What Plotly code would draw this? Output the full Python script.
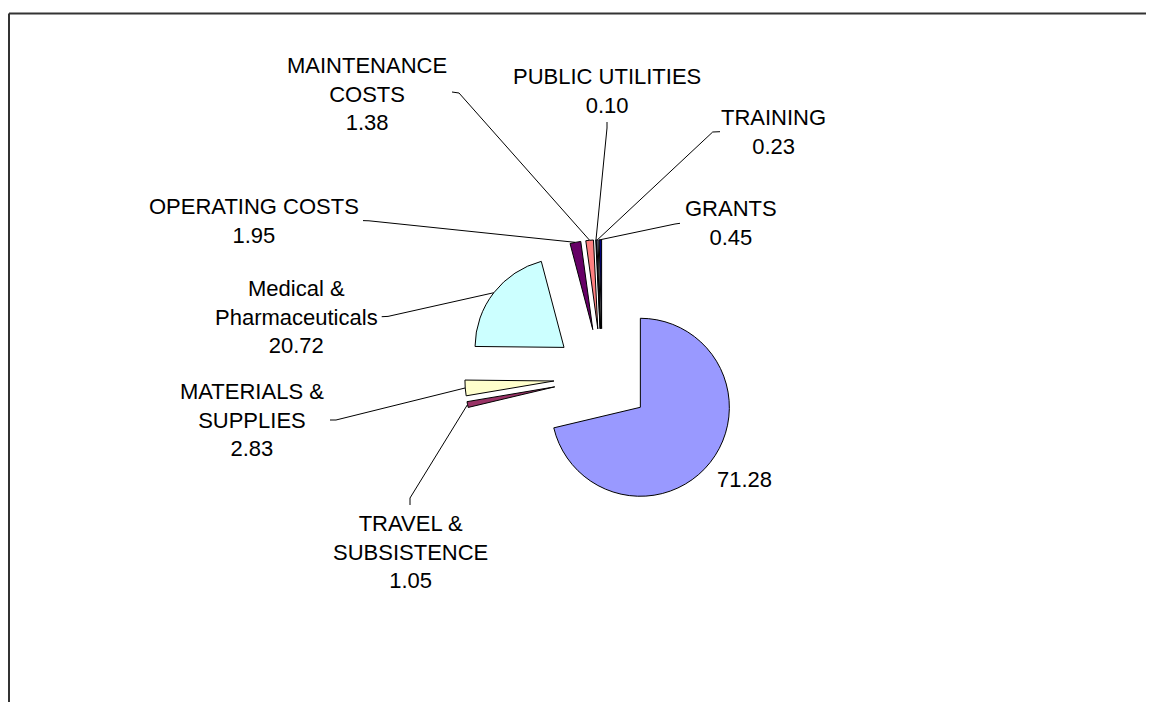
import math
import plotly.graph_objects as go

# ---- data ----
categories = ["", "TRAVEL &<br>SUBSISTENCE", "MATERIALS &<br>SUPPLIES",
              "Medical &<br>Pharmaceuticals", "OPERATING COSTS", "MAINTENANCE<br>COSTS",
              "PUBLIC UTILITIES", "TRAINING", "GRANTS"]
values = [71.28, 1.05, 2.83, 20.72, 1.95, 1.38, 0.10, 0.23, 0.45]
value_labels = ["71.28", "1.05", "2.83", "20.72", "1.95", "1.38", "0.10", "0.23", "0.45"]
colors = ["#9999FF", "#993366", "#FFFFCC", "#CCFFFF", "#660066",
          "#FF8080", "#0066CC", "#CCCCFF", "#000080"]

# ---- layout constants (window pixels; page body has an 8px margin) ----
OFF = 8
W, H = 1154 - 2 * OFF, 710 - 2 * OFF
CX, CY = 602.3, 377.2      # pie centre
R = 89.0                   # slice radius
PULL = 0.545               # explosion as fraction of radius
HALF = R * (1 + PULL)

def px(x):
    return (x - OFF) / W

def py(y):
    return 1 - (y - OFF) / H

# label centres (pixels) and leader stubs (start, stub end)
label_pos = [(744.7, 479), (410, 551.5), (252, 420), (296, 316.5), (253.5, 220.5),
             (367, 93.5), (606.5, 91), (773, 131.5), (731, 223.3)]
stubs = [None,
         ((410, 505), (410, 498)),
         ((330, 420), (336, 420)),
         ((381.7, 316.7), (388, 316.4)),
         ((363, 220.6), (369, 220.8)),
         ((452, 92), (459, 93)),
         ((607, 122), (607, 128)),
         ((720, 131.7), (712.7, 132)),
         ((680, 223.3), (675, 224))]

fig = go.Figure(go.Pie(
    labels=[f"s{i}" for i in range(len(values))],
    values=values,
    sort=False,
    direction="clockwise",
    rotation=0,
    pull=[PULL] * len(values),
    marker=dict(colors=colors, line=dict(color="black", width=1)),
    textinfo="none",
    hoverinfo="skip",
    domain=dict(x=[px(CX - HALF), px(CX + HALF)], y=[py(CY + HALF), py(CY - HALF)]),
))

font = dict(family="Arial, Liberation Sans, sans-serif", size=22, color="black")
total = sum(values)
cum = 0.0
shapes = []
annotations = []
for i, v in enumerate(values):
    mid = (cum + v / 2) / total * 2 * math.pi
    cum += v
    dx, dy = math.sin(mid), -math.cos(mid)
    ex, ey = CX + HALF * dx, CY + HALF * dy   # outer midpoint of the exploded slice
    lx, ly = label_pos[i]
    txt = value_labels[i] if categories[i] == "" else f"{categories[i]}<br>{value_labels[i]}"
    annotations.append(dict(x=px(lx), y=py(ly), xref="paper", yref="paper",
                            text=txt, showarrow=False, font=font,
                            xanchor="center", yanchor="middle", align="center"))
    if stubs[i] is not None:
        (sx, sy), (tx, ty) = stubs[i]
        path = f"M {px(sx)},{py(sy)} L {px(tx)},{py(ty)} L {px(ex)},{py(ey)}"
        shapes.append(dict(type="path", path=path, xref="paper", yref="paper",
                           line=dict(color="black", width=1)))

# outer frame (top and left edges visible)
shapes.append(dict(type="line", xref="paper", yref="paper",
                   x0=px(9), x1=1.02, y0=py(13.5), y1=py(13.5),
                   line=dict(color="#333333", width=2)))
shapes.append(dict(type="line", xref="paper", yref="paper",
                   x0=px(9), x1=px(9), y0=py(13.5), y1=-0.02,
                   line=dict(color="#333333", width=2)))

fig.update_layout(
    width=W, height=H,
    margin=dict(l=0, r=0, t=0, b=0),
    paper_bgcolor="white", plot_bgcolor="white",
    showlegend=False,
    shapes=shapes,
    annotations=annotations,
)

fig.write_html("out.html")
